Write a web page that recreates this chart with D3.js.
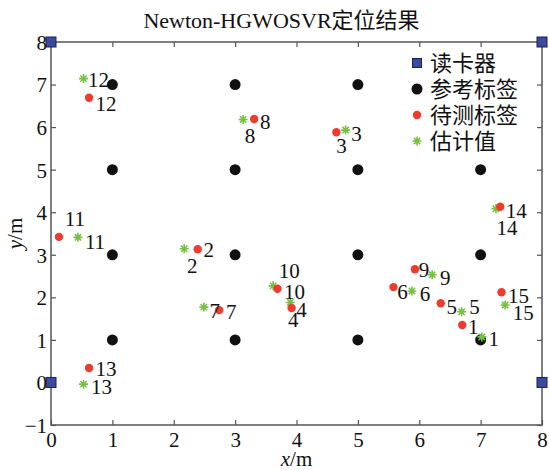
<!DOCTYPE html>
<html>
<head>
<meta charset="utf-8">
<script src="https://cdn.jsdelivr.net/npm/d3@7"></script>
<style>
  body { margin: 0; background: #fff; }
  text { font-family: "Liberation Serif", "Noto Sans CJK SC", serif; fill: #111; }
</style>
</head>
<body>
<script>
// readers, reference tags, test tags and estimates (metres)
const readers = [[0, 0], [0, 8], [8, 0], [8, 8]];
const refX = [1, 3, 5, 7];
const refY = [1, 3, 5, 7];
const tagIds = [1, 2, 3, 4, 5, 6, 7, 8, 9, 10, 11, 12, 13, 14, 15];
const trueX = [6.70, 2.39, 4.65, 3.92, 6.35, 5.58, 2.74, 3.31, 5.93, 3.69, 0.13, 0.62, 0.62, 7.32, 7.34];
const trueY = [1.35, 3.13, 5.88, 1.75, 1.86, 2.24, 1.70, 6.19, 2.66, 2.20, 3.42, 6.69, 0.34, 4.13, 2.12];
const estX = [7.02, 2.17, 4.80, 3.90, 6.69, 5.88, 2.49, 3.13, 6.21, 3.62, 0.44, 0.53, 0.53, 7.25, 7.40];
const estY = [1.07, 3.14, 5.93, 1.88, 1.66, 2.15, 1.77, 6.18, 2.53, 2.27, 3.41, 7.14, -0.04, 4.08, 1.82];
const xTicks = [0, 1, 2, 3, 4, 5, 6, 7, 8];
const yTicks = [-1, 0, 1, 2, 3, 4, 5, 6, 7, 8];
const legendNames = ['读卡器', '参考标签', '待测标签', '估计值'];

// label offsets in px (centre of label relative to marker), hand placed like the original
const trueLabelOff = [[11, 2], [11, 0], [5, 13], [10, 2], [11, 3], [9, 5], [12, 2], [11, 3], [9, 0], [17, 3], [16, -18], [17, 6], [17, 1], [16, 4], [17, 3]];
const estLabelOff = [[12, 2], [8, 17], [11, 4], [3, 17], [13, -5], [13, 3], [11, 4], [7, 16], [13, 3], [16, -15], [17, 4], [15, 1], [18, 3], [11, 19], [18, 8]];

const W = 549, H = 470;
const margin = {top: 42, right: 7, bottom: 45, left: 51};
const width = W - margin.left - margin.right;
const height = H - margin.top - margin.bottom;

const svg = d3.select('body').append('svg')
  .attr('width', W)
  .attr('height', H);

const g = svg.append('g')
  .attr('transform', `translate(${margin.left},${margin.top})`);

const x = d3.scaleLinear().domain([0, 8]).range([0, width]);
const y = d3.scaleLinear().domain([-1, 8]).range([height, 0]);

const axisColor = '#555';
const tickLen = 5;

// axes with inward ticks, plus a box round the plot
const styleAxis = (sel) => {
  sel.select('.domain').remove();
  sel.selectAll('.tick line').attr('stroke', axisColor).attr('stroke-width', 1.2);
  sel.selectAll('.tick text').style('font-size', '21px').attr('fill', '#111');
};

g.append('g')
  .attr('transform', `translate(0,${height})`)
  .call(d3.axisBottom(x).tickValues(xTicks).tickSize(-tickLen).tickPadding(7).tickFormat(d3.format('d')))
  .call(styleAxis)
  .selectAll('.tick text').attr('dy', '0.72em');

g.append('g')
  .call(d3.axisTop(x).tickValues(xTicks).tickSize(-tickLen).tickFormat(''))
  .call(styleAxis);

g.append('g')
  .call(d3.axisLeft(y).tickValues(yTicks).tickSize(-tickLen).tickPadding(4).tickFormat(d => d < 0 ? '\u2212' + (-d) : d))
  .call(styleAxis)
  .selectAll('.tick text').attr('dy', '0.35em');

g.append('g')
  .attr('transform', `translate(${width},0)`)
  .call(d3.axisRight(y).tickValues(yTicks).tickSize(-tickLen).tickFormat(''))
  .call(styleAxis);

// title and axis labels
svg.append('text')
  .attr('x', margin.left + width / 2 - 15)
  .attr('y', 28)
  .attr('text-anchor', 'middle')
  .style('font-size', '22px')
  .text('Newton-HGWOSVR定位结果');

const xl = svg.append('text')
  .attr('x', margin.left + width / 2)
  .attr('y', 466)
  .attr('text-anchor', 'middle')
  .style('font-size', '21px');
xl.append('tspan').style('font-style', 'italic').text('x');
xl.append('tspan').text('/m');

const yl = svg.append('text')
  .attr('transform', `translate(22,${margin.top + y(3.5)}) rotate(-90)`)
  .attr('text-anchor', 'middle')
  .style('font-size', '21px');
yl.append('tspan').style('font-style', 'italic').text('y');
yl.append('tspan').text('/m');

// markers
const red = '#ee3b30', green = '#76c043', blue = '#3b4a9c';

const refPts = d3.cross(refX, refY);
g.selectAll('.ref')
  .data(refPts)
  .enter().append('circle')
  .attr('class', 'ref')
  .attr('cx', d => x(d[0]))
  .attr('cy', d => y(d[1]))
  .attr('r', 5.5)
  .attr('fill', '#111');

const star = (sel, s) => {
  sel.append('path')
    .attr('d', `M${-s},0H${s}M0,${-s}V${s}M${-s * 0.7},${-s * 0.7}L${s * 0.7},${s * 0.7}M${-s * 0.7},${s * 0.7}L${s * 0.7},${-s * 0.7}`)
    .attr('stroke', green)
    .attr('stroke-width', 1.6)
    .attr('fill', 'none');
};

const trueData = tagIds.map((id, i) => ({id, x: trueX[i], y: trueY[i], off: trueLabelOff[i]}));
const estData = tagIds.map((id, i) => ({id, x: estX[i], y: estY[i], off: estLabelOff[i]}));

g.selectAll('.est')
  .data(estData)
  .enter().append('g')
  .attr('class', 'est')
  .attr('transform', d => `translate(${x(d.x)},${y(d.y)})`)
  .each(function () { star(d3.select(this), 4.5); });

g.selectAll('.true')
  .data(trueData)
  .enter().append('circle')
  .attr('class', 'true')
  .attr('cx', d => x(d.x))
  .attr('cy', d => y(d.y))
  .attr('r', 4.2)
  .attr('fill', red);

// number labels
const labels = trueData.concat(estData);
g.selectAll('.lbl')
  .data(labels)
  .enter().append('text')
  .attr('class', 'lbl')
  .attr('x', d => x(d.x) + d.off[0])
  .attr('y', d => y(d.y) + d.off[1])
  .attr('dy', '0.35em')
  .attr('text-anchor', 'middle')
  .style('font-size', '21px')
  .text(d => d.id);

// legend, white background without border (hides what lies beneath)
const legend = svg.append('g').attr('transform', 'translate(417,63)');
legend.append('rect')
  .attr('x', -12).attr('y', -15)
  .attr('width', margin.left + width - 417 - 1.5)
  .attr('height', 108)
  .attr('fill', '#fff');

const row = legend.selectAll('.row')
  .data(legendNames)
  .enter().append('g')
  .attr('class', 'row')
  .attr('transform', (d, i) => `translate(0,${i * 26})`);

row.append('text')
  .attr('x', 13)
  .attr('dy', '0.35em')
  .style('font-size', '22px')
  .text(d => d);

row.filter((d, i) => i === 0).append('rect')
  .attr('x', -4.5).attr('y', -4.5).attr('width', 9).attr('height', 9)
  .attr('fill', blue).attr('stroke', '#1c2050');
row.filter((d, i) => i === 1).append('circle').attr('r', 5.5).attr('fill', '#111');
row.filter((d, i) => i === 2).append('circle').attr('r', 4.2).attr('fill', red);
row.filter((d, i) => i === 3).each(function () { star(d3.select(this), 4.5); });

// plot frame and readers on top
g.append('rect')
  .attr('width', width)
  .attr('height', height)
  .attr('fill', 'none')
  .attr('stroke', axisColor)
  .attr('stroke-width', 1.5);

g.selectAll('.reader')
  .data(readers)
  .enter().append('rect')
  .attr('class', 'reader')
  .attr('x', d => x(d[0]) - 5)
  .attr('y', d => y(d[1]) - 5)
  .attr('width', 10)
  .attr('height', 10)
  .attr('fill', blue)
  .attr('stroke', '#1c2050')
  .attr('stroke-width', 1);
</script>
</body>
</html>
